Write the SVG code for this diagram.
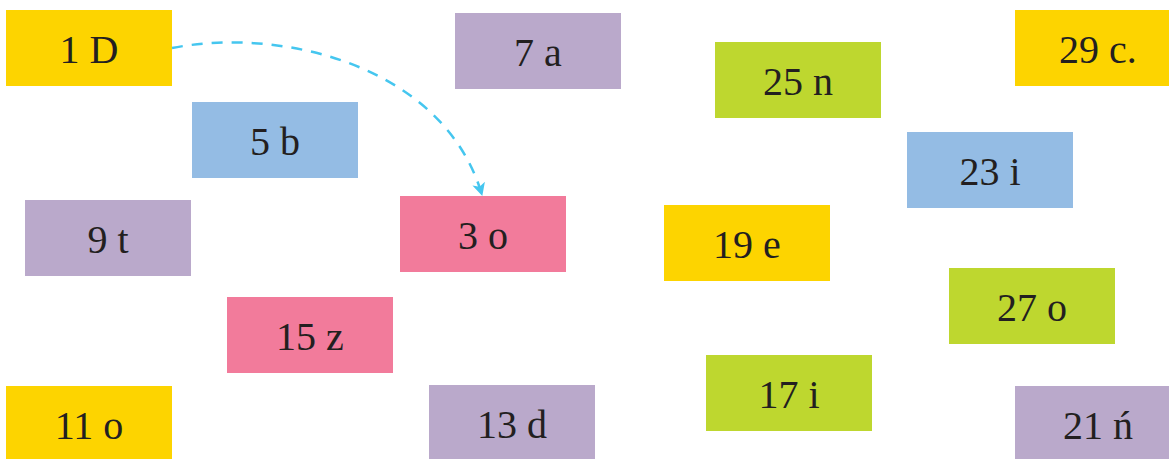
<svg xmlns="http://www.w3.org/2000/svg" width="1169" height="459" viewBox="0 0 1169 459">
  <style>
    .box text { font-family: "Liberation Serif", "DejaVu Serif", "Times New Roman", serif; font-size: 40px; fill: #231f20; text-anchor: middle; }
    .yellow { fill: #fdd400; }
    .purple { fill: #baa9cb; }
    .blue { fill: #94bce4; }
    .pink { fill: #f27b9b; }
    .green { fill: #bed72f; }
    .link { fill: none; stroke: #45c6ef; stroke-width: 2.5; stroke-dasharray: 11 9; }
  </style>
  <defs>
    <marker id="arrow" viewBox="0 0 12 12" refX="11" refY="6" markerWidth="13" markerHeight="13" markerUnits="userSpaceOnUse" orient="auto">
      <path d="M0,0 L12,6 L0,12 L3,6 Z" fill="#45c6ef"/>
    </marker>
  </defs>
  <rect width="1169" height="459" fill="#ffffff"/>

  <g font-family="Liberation Serif, DejaVu Serif, serif">
  <g id="n1" class="box"><rect class="yellow" x="6" y="10" width="166" height="76"/><text x="89" y="63">1 D</text></g>
  <g id="n3" class="box"><rect class="pink" x="400" y="196" width="166" height="76"/><text x="483" y="249">3 o</text></g>
  <g id="n5" class="box"><rect class="blue" x="192" y="102" width="166" height="76"/><text x="275" y="155">5 b</text></g>
  <g id="n7" class="box"><rect class="purple" x="455" y="13" width="166" height="76"/><text x="538" y="66">7 a</text></g>
  <g id="n9" class="box"><rect class="purple" x="25" y="200" width="166" height="76"/><text x="108" y="253">9 t</text></g>
  <g id="n11" class="box"><rect class="yellow" x="6" y="386" width="166" height="76"/><text x="89" y="439">11 o</text></g>
  <g id="n13" class="box"><rect class="purple" x="429" y="385" width="166" height="76"/><text x="512" y="438">13 d</text></g>
  <g id="n15" class="box"><rect class="pink" x="227" y="297" width="166" height="76"/><text x="310" y="350">15 z</text></g>
  <g id="n17" class="box"><rect class="green" x="706" y="355" width="166" height="76"/><text x="789" y="408">17 i</text></g>
  <g id="n19" class="box"><rect class="yellow" x="664" y="205" width="166" height="76"/><text x="747" y="258">19 e</text></g>
  <g id="n21" class="box"><rect class="purple" x="1015" y="386" width="166" height="76"/><text x="1098" y="439">21 ń</text></g>
  <g id="n23" class="box"><rect class="blue" x="907" y="132" width="166" height="76"/><text x="990" y="185">23 i</text></g>
  <g id="n25" class="box"><rect class="green" x="715" y="42" width="166" height="76"/><text x="798" y="95">25 n</text></g>
  <g id="n27" class="box"><rect class="green" x="949" y="268" width="166" height="76"/><text x="1032" y="321">27 o</text></g>
  <g id="n29" class="box"><rect class="yellow" x="1015" y="10" width="166" height="76"/><text x="1098" y="63">29 c.</text></g>
  </g>

  <g id="connectors">
    <path class="link" d="M172,48 C285,26 445,68 482,195" marker-end="url(#arrow)"/>
  </g>
</svg>
